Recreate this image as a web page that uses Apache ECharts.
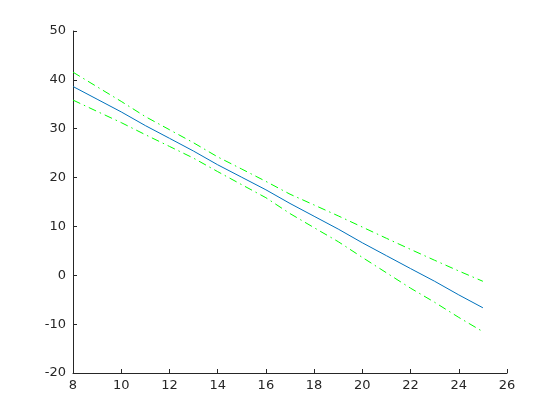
<!DOCTYPE html>
<html>
<head>
<meta charset="utf-8">
<script src="https://cdn.jsdelivr.net/npm/echarts@6/dist/echarts.min.js"></script>
<style>html,body{margin:0;padding:0;background:#fff}#c{width:560px;height:420px}</style>
</head>
<body>
<div id="c"></div>
<script>
const xValues = [8,9,10,11,12,13,14,15,16,17,18,19,20,21,22,23,24,25];
const fitValues = [38.64,36.04,33.44,30.64,28.04,25.42,22.62,20.06,17.5,14.7,12.08,9.46,6.65,4.01,1.37,-1.23,-4.01,-6.65];
const upperValues = [41.57,38.58,35.59,32.48,29.8,27.12,24.23,21.74,19.22,16.6,14.39,12.16,9.87,7.57,5.3,3.07,0.88,-1.23];
const lowerValues = [35.86,33.54,31.25,28.78,26.38,23.97,21.22,18.54,15.88,12.63,9.74,6.88,3.66,0.51,-2.64,-5.53,-8.62,-11.54];
const xTicks = {min: 8, max: 26, interval: 2};
const yTicks = {min: -20, max: 50, interval: 10};

const pair = ys => xValues.map((x, i) => [x, ys[i]]);
const axisColor = '#262626';
const font = {color: axisColor, fontFamily: 'DejaVu Sans', fontSize: 13};

const chart = echarts.init(document.getElementById('c'), null, {renderer: 'canvas'});
chart.setOption({
  animation: false,
  backgroundColor: '#ffffff',
  grid: {left: 73, right: 53, top: 31, bottom: 47},
  xAxis: {
    type: 'value', min: xTicks.min, max: xTicks.max, interval: xTicks.interval,
    axisLine: {show: true, onZero: false, lineStyle: {color: axisColor, width: 1}},
    axisTick: {show: true, inside: true, length: 4, lineStyle: {color: axisColor}},
    axisLabel: Object.assign({margin: 6}, font),
    splitLine: {show: false}
  },
  yAxis: {
    type: 'value', min: yTicks.min, max: yTicks.max, interval: yTicks.interval,
    axisLine: {show: true, onZero: false, lineStyle: {color: axisColor, width: 1}},
    axisTick: {show: true, inside: true, length: 4, lineStyle: {color: axisColor}},
    axisLabel: Object.assign({margin: 7}, font),
    splitLine: {show: false}
  },
  series: [
    {type: 'line', data: pair(fitValues), showSymbol: false, lineStyle: {color: '#0072BD', width: 1}, z: 3},
    {type: 'line', data: pair(upperValues), showSymbol: false, lineStyle: {color: '#00FF00', width: 1, type: [8, 4, 1.5, 4]}, z: 2},
    {type: 'line', data: pair(lowerValues), showSymbol: false, lineStyle: {color: '#00FF00', width: 1, type: [8, 4, 1.5, 4]}, z: 2}
  ]
});
</script>
</body>
</html>
